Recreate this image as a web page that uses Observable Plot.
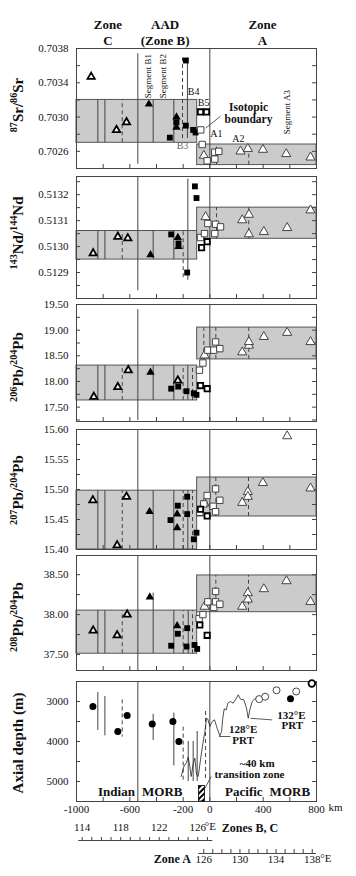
<!DOCTYPE html>
<html><head><meta charset="utf-8">
<script src="https://cdn.jsdelivr.net/npm/d3@7"></script>
<script src="https://cdn.jsdelivr.net/npm/@observablehq/plot@0.6"></script>
<style>
html,body{margin:0;padding:0;background:#fff;}
#root{position:relative;width:356px;height:876px;overflow:hidden;font-family:"Liberation Serif","Times New Roman",serif;color:#111;}
#root svg{position:absolute;left:0;}
.ytitle{position:absolute;left:18px;white-space:nowrap;font-weight:bold;font-size:15px;line-height:1;transform:translate(-50%,-50%) rotate(-90deg);}
.ytitle sup{font-size:0.68em;vertical-align:0.5em;line-height:0;}
</style></head><body><div id="root"></div>
<script>
// ---------- shared axis values ----------
const xDomain = [-1000, 800];
const xLabels = [-1000, -600, -200, 0, 400, 800];
const xMinor = [-800, -600, -400, -200, 0, 200, 400, 600];
const headerTop = [[-765, "Zone"], [-335, "AAD"], [395, "Zone"]];
const headerBottom = [[-765, "C"], [-335, "(Zone B)"], [395, "A"]];

// ---------- 87Sr/86Sr ----------
const srDomain = [0.7024, 0.7038];
const srLabels = [0.7026, 0.7030, 0.7034, 0.7038];
const srMinor = [0.7026, 0.7028, 0.7030, 0.7032, 0.7034, 0.7036];
const srBoxes = [[-1000, -95, 0.7027, 0.7032], [-95, 800, 0.70244, 0.70268]];
const srLines = [[-840, 0.7027, 0.7032, 0], [-787, 0.7027, 0.7032, 0], [-657, 0.7027, 0.7032, 1],
  [-540, 0.70245, 0.70374, 0], [-425, 0.7027, 0.7032, 0], [-270, 0.7027, 0.7032, 0],
  [-205, 0.70275, 0.70369, 1], [-168, 0.70275, 0.70369, 0], [0, 0.7024, 0.7038, 0],
  [50, 0.70244, 0.70268, 1], [292, 0.70244, 0.70268, 1]];
const srPoints = [[-890, 0.70347, "C"], [-625, 0.70294, "C"], [-700, 0.70285, "C"],
  [-457, 0.70315, "Bt"], [-250, 0.70300, "Bt"], [-250, 0.70288, "Bt"],
  [-180, 0.70366, "Bs"], [-250, 0.70294, "Bs"], [-180, 0.70290, "Bs"], [-125, 0.70285, "Bs"], [-107, 0.70282, "Bs"], [-300, 0.70276, "Bs"],
  [-70, 0.70306, "Xs"], [-25, 0.70306, "Xs"],
  [-57, 0.70268, "As"], [-20, 0.70249, "As"], [37, 0.70259, "As"], [37, 0.70251, "As"], [67, 0.70260, "As"], [-68, 0.70285, "As"],
  [-45, 0.70255, "At"], [230, 0.70260, "At"], [285, 0.70263, "At"], [398, 0.70262, "At"], [573, 0.70257, "At"], [755, 0.70253, "At"]];
const srSegLabels = [[-465, 0.70322, "Segment B1"], [-350, 0.70322, "Segment B2"], [578, 0.70280, "Segment A3"]];
const srSmallLabels = [[-122, 0.70329, "B4"], [-47, 0.70317, "B5"], [49, 0.70280, "A1"], [214, 0.70275, "A2"]];
const srGrayLabels = [[-205, 0.70266, "B3"]];
const srBoundary = [[290, 0.70311, "Isotopic"], [290, 0.70297, "boundary"]];
const srLeader = [[80, 0.70301, -32, 0.70287]];

// ---------- 143Nd/144Nd ----------
const ndDomain = [0.51280, 0.51327];
const ndLabels = [0.5129, 0.5130, 0.5131, 0.5132];
const ndMinor = [0.51285, 0.5129, 0.51295, 0.5130, 0.51305, 0.5131, 0.51315, 0.5132, 0.51325];
const ndBoxes = [[-1000, -95, 0.51295, 0.51306], [-95, 800, 0.51303, 0.51315]];
const ndLines = [[-840, 0.51295, 0.51306, 0], [-787, 0.51295, 0.51306, 0], [-657, 0.51295, 0.51306, 1],
  [-540, 0.51283, 0.51327, 0], [-425, 0.51295, 0.51306, 0], [-270, 0.51295, 0.51306, 0],
  [-200, 0.51288, 0.51306, 1], [-165, 0.51287, 0.51326, 0], [0, 0.51280, 0.51327, 0],
  [50, 0.51303, 0.51315, 1], [292, 0.51303, 0.51315, 1]];
const ndPoints = [[-875, 0.512974, "C"], [-690, 0.513038, "C"], [-615, 0.513032, "C"],
  [-445, 0.512968, "Bt"], [-240, 0.513035, "Bt"], [-235, 0.513000, "Bt"],
  [-290, 0.513047, "Bs"], [-235, 0.513012, "Bs"], [-112, 0.513232, "Bs"], [-100, 0.513187, "Bs"], [-170, 0.512900, "Bs"],
  [-20, 0.513019, "Xs"], [-62, 0.512996, "Xs"],
  [-70, 0.513035, "As"], [-40, 0.513050, "As"], [-15, 0.513089, "As"], [43, 0.513086, "As"], [80, 0.513076, "As"], [37, 0.513050, "As"],
  [-32, 0.513114, "At"], [243, 0.513102, "At"], [293, 0.513123, "At"], [293, 0.513048, "At"], [405, 0.513057, "At"], [580, 0.513072, "At"], [755, 0.513140, "At"]];

// ---------- 206Pb/204Pb ----------
const pb6Domain = [17.22, 19.5];
const pb6Labels = [17.5, 18.0, 18.5, 19.0, 19.5];
const pb6Minor = [17.25, 17.5, 17.75, 18.0, 18.25, 18.5, 18.75, 19.0, 19.25];
const pb6Boxes = [[-1000, -95, 17.63, 18.31], [-95, 800, 18.43, 19.05]];
const pb6Lines = [[-840, 17.63, 18.31, 0], [-787, 17.63, 18.31, 0], [-657, 17.63, 18.31, 1],
  [-540, 17.24, 19.40, 0], [-425, 17.63, 18.31, 0], [-270, 17.63, 18.31, 0], [-200, 17.63, 18.31, 1],
  [-165, 17.63, 18.31, 0], [-130, 17.63, 18.31, 1], [0, 17.22, 19.5, 0],
  [-45, 18.43, 19.05, 1], [45, 18.43, 19.05, 1], [292, 18.43, 19.05, 1]];
const pb6Points = [[-870, 17.70, "C"], [-690, 17.89, "C"], [-612, 18.22, "C"], [-240, 18.02, "C"],
  [-445, 18.18, "Bt"],
  [-290, 17.86, "Bs"], [-237, 17.90, "Bs"], [-175, 17.81, "Bs"], [-120, 17.77, "Bs"], [-100, 17.74, "Bs"],
  [-70, 17.92, "Xs"], [-20, 17.86, "Xs"],
  [-78, 18.22, "As"], [-52, 18.36, "As"], [-15, 18.61, "As"], [30, 18.61, "As"], [43, 18.77, "As"], [75, 18.64, "As"],
  [-40, 18.51, "At"], [243, 18.57, "At"], [293, 18.70, "At"], [293, 18.77, "At"], [405, 18.87, "At"], [580, 18.95, "At"], [755, 18.77, "At"]];

// ---------- 207Pb/204Pb ----------
const pb7Domain = [15.40, 15.60];
const pb7Labels = [15.40, 15.45, 15.50, 15.55, 15.60];
const pb7Minor = [15.425, 15.45, 15.475, 15.50, 15.525, 15.55, 15.575];
const pb7Boxes = [[-1000, -95, 15.40, 15.498], [-95, 800, 15.455, 15.52]];
const pb7Lines = [[-840, 15.40, 15.498, 0], [-787, 15.40, 15.498, 0], [-657, 15.40, 15.498, 1],
  [-540, 15.40, 15.60, 0], [-425, 15.40, 15.498, 0], [-270, 15.40, 15.498, 0], [-200, 15.40, 15.498, 1],
  [-165, 15.40, 15.498, 0], [-130, 15.40, 15.498, 1], [0, 15.40, 15.60, 0],
  [45, 15.455, 15.52, 1], [290, 15.455, 15.52, 1]];
const pb7Points = [[-877, 15.482, "C"], [-625, 15.488, "C"], [-695, 15.407, "C"],
  [-452, 15.463, "Bt"], [-245, 15.459, "Bt"], [-245, 15.436, "Bt"],
  [-170, 15.488, "Bs"], [-240, 15.473, "Bs"], [-295, 15.449, "Bs"], [-170, 15.459, "Bs"], [-100, 15.428, "Bs"], [-120, 15.417, "Bs"],
  [-70, 15.467, "Xs"], [-20, 15.456, "Xs"],
  [-75, 15.462, "As"], [-45, 15.476, "As"], [-20, 15.490, "As"], [43, 15.501, "As"], [25, 15.472, "As"], [43, 15.463, "As"], [75, 15.482, "As"],
  [-40, 15.477, "At"], [243, 15.478, "At"], [285, 15.496, "At"], [285, 15.488, "At"], [398, 15.511, "At"], [580, 15.589, "At"], [755, 15.502, "At"]];

// ---------- 208Pb/204Pb ----------
const pb8Domain = [37.30, 38.74];
const pb8Labels = [37.5, 38.0, 38.5];
const pb8Minor = [37.5, 37.75, 38.0, 38.25, 38.5];
const pb8Boxes = [[-1000, -95, 37.51, 38.05], [-95, 800, 38.03, 38.49]];
const pb8Lines = [[-840, 37.51, 38.05, 0], [-787, 37.51, 38.05, 0], [-657, 37.51, 38.05, 1],
  [-540, 37.30, 38.74, 0], [-425, 37.51, 38.27, 0], [-270, 37.51, 38.05, 0], [-200, 37.51, 38.05, 1],
  [-162, 37.51, 38.05, 0], [-130, 37.51, 38.05, 1], [0, 37.30, 38.74, 0],
  [45, 38.03, 38.49, 1], [290, 38.03, 38.49, 1]];
const pb8Points = [[-875, 37.80, "C"], [-695, 37.74, "C"], [-620, 38.00, "C"],
  [-450, 38.22, "Bt"], [-245, 37.86, "Bt"],
  [-240, 37.76, "Bs"], [-170, 37.83, "Bs"], [-290, 37.61, "Bs"], [-175, 37.60, "Bs"], [-115, 37.62, "Bs"], [-95, 37.57, "Bs"],
  [-75, 37.87, "Xs"], [-20, 37.74, "Xs"],
  [-80, 37.95, "As"], [-52, 38.00, "As"], [-15, 38.16, "As"], [30, 38.09, "As"], [43, 38.29, "As"], [43, 38.16, "As"], [75, 38.13, "As"],
  [-40, 38.10, "At"], [243, 38.10, "At"], [285, 38.27, "At"], [285, 38.19, "At"], [405, 38.32, "At"], [575, 38.42, "At"], [755, 38.16, "At"]];

// ---------- Axial depth ----------
const depthDomain = [5500, 2500];
const depthLabels = [3000, 4000, 5000];
const depthMinor = [3000, 3500, 4000, 4500, 5000];
const depthLines = [[-840, 2775, 3725, 0], [-787, 2875, 3860, 0], [-657, 2960, 3890, 1],
  [-425, 3320, 3975, 0], [-270, 3290, 4610, 0], [-200, 3640, 5000, 1], [-162, 4000, 5000, 0],
  [-125, 4000, 5000, 0], [-95, 3750, 5000, 0], [-32, 3250, 4950, 1],
  [-540, 2500, 5500, 0], [0, 2500, 5500, 0]];
const depthFilled = [[-877, 3125], [-690, 3750], [-620, 3350], [-432, 3560], [-277, 3500], [-232, 4000], [605, 2930]];
const depthOpen = [[370, 2940], [415, 2880], [500, 2720], [648, 2750]];
const depthOpenBold = [[765, 2550]];
const bathy = [[-215, 4875], [-195, 4625], [-175, 4525], [-162, 4392], [-150, 4625], [-140, 4875], [-125, 4558],
  [-112, 4417], [-100, 4833], [-87, 4875], [-70, 4458], [-52, 4042], [-37, 3750], [-25, 3417], [-15, 3442],
  [0, 3625], [18, 3500], [35, 3458], [55, 3667], [75, 3858], [88, 3750], [97, 3417], [108, 3183], [123, 3208],
  [135, 3042], [155, 3000], [175, 3042], [195, 2942], [213, 2833], [230, 2942], [255, 2958], [275, 3167],
  [288, 3417], [300, 3208], [318, 3000], [343, 2917], [360, 2900]];
const transitionRect = [[-82, -37, 5110, 5500]];
const depthNotes = [[250, 3700, "128°E"], [250, 3975, "PRT"], [612, 3340, "132°E"], [618, 3610, "PRT"],
  [355, 4550, "~40 km"], [297, 4825, "transition zone"]];
const depthLeaders = [[68, 3875, 155, 3875], [305, 3420, 468, 3460], [10, 4875, -37, 5170]];
const morbLabels = [[-700, 5270, "Indian"], [-357, 5270, "MORB"], [255, 5270, "Pacific"], [600, 5270, "MORB"]];

// ---------- longitude scales ----------
const lonBCDomain = [113.65, 127.56];
const lonBCTicks = d3.range(114, 128);
const lonBCLabels = [114, 118, 122, 126];
const lonADomain = [125.45, 138.47];
const lonATicks = d3.range(126, 139);
const lonALabels = [126, 130, 134, 138];

// ---------- drawing ----------
const W = 356, ML = 76, MR = 40, PW = W - ML - MR;
const root = document.getElementById("root");
const baseStyle = {fontFamily: '"Liberation Serif", "Times New Roman", serif', fontSize: "11px", color: "#111", background: "transparent", overflow: "visible"};
const ink = "#444";

function dotMarks(pts) {
  const by = t => pts.filter(d => d[2] === t);
  const xy = {x: d => d[0], y: d => d[1]};
  return [
    Plot.dot(by("C"), {...xy, symbol: "triangle", r: 2.7, fill: "white", stroke: "black", strokeWidth: 1.8}),
    Plot.dot(by("Bt"), {...xy, symbol: "triangle", r: 3.1, fill: "black"}),
    Plot.dot(by("Bs"), {...xy, symbol: "square", r: 3.3, fill: "black"}),
    Plot.dot(by("At"), {...xy, symbol: "triangle", r: 3.4, fill: "white", stroke: "#333", strokeWidth: 0.9}),
    Plot.dot(by("As"), {...xy, symbol: "square", r: 3.6, fill: "white", stroke: "#333", strokeWidth: 0.9}),
    Plot.dot(by("Xs"), {...xy, symbol: "square", r: 3.0, fill: "white", stroke: "black", strokeWidth: 1.8})
  ];
}

function panel(cfg) {
  const {top, mt, fh, mb, yDomain, yLabels, yFmt, yMinor, boxes = [], lines, pts = [], extra = [], bottomAxis = false} = cfg;
  const H = mt + fh + mb;
  const marks = [
    Plot.rect(boxes, {x1: d => d[0], x2: d => d[1], y1: d => d[2], y2: d => d[3], fill: "#cbcbcb", stroke: "#555", strokeWidth: 1}),
    Plot.ruleX(lines.filter(d => !d[3]), {x: d => d[0], y1: d => d[1], y2: d => d[2], stroke: ink, strokeWidth: 1}),
    Plot.ruleX(lines.filter(d => d[3]), {x: d => d[0], y1: d => d[1], y2: d => d[2], stroke: ink, strokeWidth: 1, strokeDasharray: "4,3"}),
    Plot.frame({stroke: ink}),
    Plot.tickY(yMinor, {y: d => d, insetRight: PW - 4, stroke: ink}),
    Plot.tickY(yMinor, {y: d => d, insetLeft: PW - 4, stroke: ink}),
    Plot.tickX(xMinor, {x: d => d, insetTop: fh - 4, stroke: ink}),
    Plot.axisY({ticks: yLabels, tickSize: 0, tickPadding: 8, tickFormat: yFmt, label: null}),
    ...dotMarks(pts),
    ...extra
  ];
  if (bottomAxis) {
    marks.push(Plot.axisX({ticks: xLabels, tickSize: 0, tickPadding: 4, tickFormat: d => String(d), label: null}));
    marks.push(Plot.text(["km"], {frameAnchor: "bottom-right", textAnchor: "start", dx: 12, dy: 9, fontSize: 11}));
  }
  const svg = Plot.plot({
    width: W, height: H, marginLeft: ML, marginRight: MR, marginTop: mt, marginBottom: mb,
    x: {domain: xDomain, axis: null},
    y: {domain: yDomain},
    style: baseStyle,
    marks
  });
  svg.style.top = top + "px";
  root.appendChild(svg);
  return svg;
}

const f4 = d3.format(".4f"), f2 = d3.format(".2f");

// Panel 1: Sr
panel({top: 0, mt: 48, fh: 120, mb: 2, yDomain: srDomain, yLabels: srLabels, yFmt: f4, yMinor: srMinor,
  boxes: srBoxes, lines: srLines, pts: srPoints,
  extra: [
    Plot.text(headerTop, {x: d => d[0], text: d => d[1], frameAnchor: "top", dy: -29, fontWeight: "bold", fontSize: 13}),
    Plot.text(headerBottom, {x: d => d[0], text: d => d[1], frameAnchor: "top", dy: -13, fontWeight: "bold", fontSize: 13}),
    Plot.text(srSegLabels, {x: d => d[0], y: d => d[1], text: d => d[2], rotate: -90, textAnchor: "start", fontSize: 9}),
    Plot.text(srSmallLabels, {x: d => d[0], y: d => d[1], text: d => d[2], fontSize: 10}),
    Plot.text(srGrayLabels, {x: d => d[0], y: d => d[1], text: d => d[2], fontSize: 10, fill: "#666"}),
    Plot.link(srLeader, {x1: d => d[0], y1: d => d[1], x2: d => d[2], y2: d => d[3], stroke: "#333", strokeWidth: 0.8}),
    Plot.text(srBoundary, {x: d => d[0], y: d => d[1], text: d => d[2], fontWeight: "bold", fontSize: 11.5})
  ]});

// Panel 2: Nd
panel({top: 170, mt: 6, fh: 122, mb: 2, yDomain: ndDomain, yLabels: ndLabels, yFmt: f4, yMinor: ndMinor,
  boxes: ndBoxes, lines: ndLines, pts: ndPoints});

// Panel 3: 206Pb
panel({top: 300, mt: 4, fh: 117, mb: 4, yDomain: pb6Domain, yLabels: pb6Labels, yFmt: f2, yMinor: pb6Minor,
  boxes: pb6Boxes, lines: pb6Lines, pts: pb6Points});

// Panel 4: 207Pb
panel({top: 425, mt: 4, fh: 120, mb: 2, yDomain: pb7Domain, yLabels: pb7Labels, yFmt: f2, yMinor: pb7Minor,
  boxes: pb7Boxes, lines: pb7Lines, pts: pb7Points});

// Panel 5: 208Pb
panel({top: 551, mt: 4, fh: 115, mb: 4, yDomain: pb8Domain, yLabels: pb8Labels, yFmt: f2, yMinor: pb8Minor,
  boxes: pb8Boxes, lines: pb8Lines, pts: pb8Points});

// Panel 6: depth
const depthSvg = panel({top: 674, mt: 7, fh: 120, mb: 15, yDomain: depthDomain, yLabels: depthLabels, yFmt: d3.format("d"), yMinor: depthMinor,
  lines: depthLines, bottomAxis: true,
  extra: [
    Plot.line(bathy, {x: d => d[0], y: d => d[1], stroke: "#222", strokeWidth: 0.8}),
    Plot.rect(transitionRect, {x1: d => d[0], x2: d => d[1], y1: d => d[2], y2: d => d[3], fill: "url(#hatch)", stroke: "black", strokeWidth: 0.8}),
    Plot.link(depthLeaders, {x1: d => d[0], y1: d => d[1], x2: d => d[2], y2: d => d[3], stroke: "#333", strokeWidth: 0.8}),
    Plot.dot(depthFilled, {x: d => d[0], y: d => d[1], r: 3.5, fill: "black"}),
    Plot.dot(depthOpen, {x: d => d[0], y: d => d[1], r: 3.5, fill: "white", stroke: "#333", strokeWidth: 0.9}),
    Plot.dot(depthOpenBold, {x: d => d[0], y: d => d[1], r: 3.3, fill: "white", stroke: "black", strokeWidth: 1.8}),
    Plot.text(depthNotes, {x: d => d[0], y: d => d[1], text: d => d[2], fontWeight: "bold", fontSize: 11}),
    Plot.text(morbLabels, {x: d => d[0], y: d => d[1], text: d => d[2], fontWeight: "bold", fontSize: 13})
  ]});
(function addHatch(svg) {
  const defs = document.createElementNS("http://www.w3.org/2000/svg", "defs");
  defs.innerHTML = '<pattern id="hatch" patternUnits="userSpaceOnUse" width="4" height="4" patternTransform="rotate(45)"><rect width="4" height="4" fill="white"/><rect width="2" height="4" fill="black"/></pattern>';
  svg.insertBefore(defs, svg.firstChild);
})(depthSvg);

// Longitude scale for zones B, C
const lonBC = Plot.plot({
  width: W, height: 30, marginLeft: 78.3, marginRight: W - 212.3, marginTop: 0, marginBottom: 6,
  x: {domain: lonBCDomain, axis: null}, y: {domain: [0, 1], axis: null},
  style: baseStyle,
  marks: [
    Plot.ruleY([0], {stroke: ink}),
    Plot.tickX(lonBCTicks, {x: d => d, insetTop: 21, stroke: ink}),
    Plot.text(lonBCLabels, {x: d => d, text: d => String(d), frameAnchor: "top", dy: 7, fontSize: 11}),
    Plot.text(["°E"], {x: [126], text: d => d, frameAnchor: "top", textAnchor: "start", dx: 7, dy: 6, fontSize: 11}),
    Plot.text(["Zones B, C"], {x: [126], text: d => d, frameAnchor: "top", textAnchor: "start", dx: 24, dy: 7, fontWeight: "bold", fontSize: 12})
  ]
});
lonBC.style.top = "816px";
root.appendChild(lonBC);

// Longitude scale for zone A
const lonA = Plot.plot({
  width: W, height: 30, marginLeft: 198.3, marginRight: 40, marginTop: 0, marginBottom: 23,
  x: {domain: lonADomain, axis: null}, y: {domain: [0, 1], axis: null},
  style: baseStyle,
  marks: [
    Plot.ruleY([0], {stroke: ink}),
    Plot.tickX(lonATicks, {x: d => d, insetTop: 3, stroke: ink}),
    Plot.text(lonALabels, {x: d => d, text: d => String(d), frameAnchor: "bottom", dy: 9, fontSize: 11}),
    Plot.text(["°E"], {x: [138], text: d => d, frameAnchor: "bottom", textAnchor: "start", dx: 8, dy: 8, fontSize: 11}),
    Plot.text(["Zone A"], {frameAnchor: "bottom-left", textAnchor: "end", dx: -8, dy: 9, fontWeight: "bold", fontSize: 12})
  ]
});
lonA.style.top = "846px";
root.appendChild(lonA);

// Rotated y-axis titles
const titles = [
  [105, "<sup>87</sup>Sr/<sup>86</sup>Sr"],
  [233, "<sup>143</sup>Nd/<sup>144</sup>Nd"],
  [367, "<sup>206</sup>Pb/<sup>204</sup>Pb"],
  [490, "<sup>207</sup>Pb/<sup>204</sup>Pb"],
  [617, "<sup>208</sup>Pb/<sup>204</sup>Pb"],
  [743, "Axial depth (m)"]
];
for (const [cy, html] of titles) {
  const d = document.createElement("div");
  d.className = "ytitle";
  d.style.top = cy + "px";
  d.innerHTML = html;
  root.appendChild(d);
}
</script></body></html>
